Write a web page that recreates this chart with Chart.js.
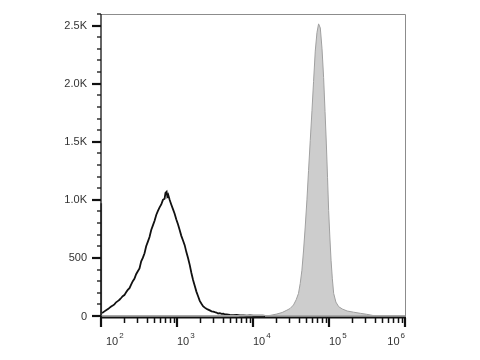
<!DOCTYPE html>
<html>
<head>
<meta charset="utf-8">
<script src="https://cdn.jsdelivr.net/npm/chart.js@4"></script>
<style>
  html, body { margin: 0; padding: 0; background: #fff; }
  canvas { display: block; }
</style>
</head>
<body>
<canvas id="histChart" width="480" height="360"></canvas>
<script>
// Data: fluorescence intensity vs. event count
const unstainedX = [100, 100, 101, 106, 111, 118, 125, 129, 136, 143, 150, 158, 166, 175, 184, 193, 203, 214, 225, 237, 249, 262, 275, 290, 305, 321, 338, 355, 374, 393, 414, 435, 458, 482, 507, 533, 561, 590, 621, 653, 687, 705, 730, 745, 765, 800, 840, 885, 931, 980, 1030, 1084, 1140, 1200, 1262, 1328, 1397, 1470, 1547, 1627, 1711, 1800, 1895, 1992, 2100, 2200, 2320, 2440, 2570, 2702, 2850, 3000, 3146, 3300, 3480, 3664, 3860, 4070, 4300, 4520, 4967, 5500, 6100, 6734, 7500, 8300, 9129, 10100, 11200, 12380, 13500, 14420];
const unstainedY = [0, 970, 25, 30, 40, 52, 62, 70, 82, 90, 100, 118, 128, 140, 155, 170, 180, 205, 225, 240, 270, 300, 320, 360, 385, 410, 470, 500, 540, 600, 640, 680, 740, 780, 820, 870, 905, 935, 960, 1000, 1010, 1060, 1070, 1030, 1045, 1000, 960, 920, 880, 830, 790, 740, 690, 650, 610, 550, 500, 440, 370, 310, 260, 210, 170, 130, 105, 85, 72, 62, 55, 48, 40, 37, 33, 30, 22, 24, 18, 20, 13, 14, 10, 7, 9, 5, 6, 3, 5, 2, 4, 2, 3, 0];

const stainedX = [13150, 16780, 20570, 24170, 27900, 30830, 34100, 37000, 39700, 41800, 44000, 46200, 48650, 51250, 53800, 56640, 59680, 62660, 65940, 69450, 72950, 76850, 80940, 84970, 88700, 92300, 95700, 98900, 102600, 106400, 110700, 115200, 123200, 134200, 150100, 173300, 210000, 259500, 311600, 374300, 422500];
const stainedY = [0, 5, 17, 30, 50, 65, 95, 140, 195, 280, 394, 560, 766, 1000, 1252, 1510, 1767, 2020, 2281, 2440, 2515, 2480, 2300, 2052, 1760, 1481, 1190, 909, 680, 480, 320, 195, 120, 80, 60, 43, 33, 23, 15, 5, 0];

// Axis ticks
const yMajorTicks = [0, 500, 1000, 1500, 2000, 2500];
const yTickLabels = ['0', '500', '1.0K', '1.5K', '2.0K', '2.5K'];
const xDecades = [100, 1000, 10000, 100000, 1000000];
const xExponents = ['2', '3', '4', '5', '6'];

const toPoints = (xs, ys) => xs.map((x, i) => ({ x, y: ys[i] }));

const flowAxes = {
    id: 'flowAxes',
    afterDatasetsDraw(chart) {
        const { ctx, chartArea: area, scales } = chart;
        const xs = scales.x;
        const ys = scales.y;
        const y0 = ys.getPixelForValue(0);
        ctx.save();

        // box border
        ctx.strokeStyle = '#8c8c8c';
        ctx.lineWidth = 1;
        ctx.beginPath();
        ctx.moveTo(area.left, area.top + 0.5);
        ctx.lineTo(area.right + 0.5, area.top + 0.5);
        ctx.lineTo(area.right + 0.5, y0);
        ctx.stroke();

        // gray baseline
        ctx.strokeStyle = '#a8a8a8';
        ctx.beginPath();
        ctx.moveTo(area.left, y0 - 0.5);
        ctx.lineTo(area.right, y0 - 0.5);
        ctx.stroke();

        // left axis
        ctx.strokeStyle = '#333';
        ctx.lineWidth = 1.5;
        ctx.beginPath();
        ctx.moveTo(area.left, area.top);
        ctx.lineTo(area.left, y0 + 2);
        ctx.stroke();

        // bottom axis
        ctx.strokeStyle = '#111';
        ctx.lineWidth = 2;
        ctx.beginPath();
        ctx.moveTo(area.left - 1, y0 + 1.5);
        ctx.lineTo(area.right + 1, y0 + 1.5);
        ctx.stroke();

        // y ticks (minor every 100)
        ctx.strokeStyle = '#111';
        for (let v = 0; v <= ys.max; v += 100) {
            const py = Math.round(ys.getPixelForValue(v));
            const major = yMajorTicks.includes(v);
            ctx.lineWidth = major ? 2.2 : 1.3;
            ctx.beginPath();
            ctx.moveTo(area.left - (major ? 9 : 4), py);
            ctx.lineTo(area.left, py);
            ctx.stroke();
        }

        ctx.fillStyle = '#333';
        ctx.font = '11px "Liberation Sans", Arial, sans-serif';
        ctx.textAlign = 'right';
        ctx.textBaseline = 'middle';
        yMajorTicks.forEach((v, i) => {
            ctx.fillText(yTickLabels[i], area.left - 14, ys.getPixelForValue(v) + 0.5);
        });

        // x ticks (log minors)
        ctx.strokeStyle = '#111';
        xDecades.forEach((d, i) => {
            const px = xs.getPixelForValue(d);
            ctx.lineWidth = 2.2;
            ctx.beginPath();
            ctx.moveTo(px, y0 + 2);
            ctx.lineTo(px, y0 + 11);
            ctx.stroke();
            if (i < xDecades.length - 1) {
                for (let m = 2; m <= 9; m++) {
                    const mx = Math.round(xs.getPixelForValue(d * m)) + 0.5;
                    ctx.lineWidth = 1.5;
                    ctx.beginPath();
                    ctx.moveTo(mx, y0 + 2);
                    ctx.lineTo(mx, y0 + 7);
                    ctx.stroke();
                }
            }
        });

        // x labels 10^n
        ctx.textBaseline = 'alphabetic';
        ctx.textAlign = 'left';
        xDecades.forEach((d, i) => {
            const px = xs.getPixelForValue(d);
            ctx.font = '11px "Liberation Sans", Arial, sans-serif';
            const baseW = ctx.measureText('10').width;
            ctx.font = '8px "Liberation Sans", Arial, sans-serif';
            const expW = ctx.measureText(xExponents[i]).width;
            let startX = px;
            if (i === 0) startX = px + 5;
            if (i === xDecades.length - 1) startX = px - baseW - expW - 1;
            ctx.font = '11px "Liberation Sans", Arial, sans-serif';
            ctx.fillText('10', startX, y0 + 29);
            ctx.font = '8px "Liberation Sans", Arial, sans-serif';
            ctx.fillText(xExponents[i], startX + baseW + 1, y0 + 22);
        });

        ctx.restore();
    },
};

const ctx = document.getElementById('histChart').getContext('2d');

// eslint-disable-next-line no-new
new Chart(ctx, {
    type: 'line',
    data: {
        datasets: [
            {
                label: 'Unstained',
                data: toPoints(unstainedX, unstainedY),
                borderColor: '#111',
                borderWidth: 1.8,
                pointRadius: 0,
                tension: 0,
                fill: false,
                clip: 3,
                order: 0,
            },
            {
                label: 'Stained',
                data: toPoints(stainedX, stainedY),
                borderColor: '#a0a0a0',
                backgroundColor: '#cdcdcd',
                borderWidth: 1,
                pointRadius: 0,
                tension: 0,
                fill: 'origin',
                order: 1,
            },
        ],
    },
    options: {
        responsive: false,
        animation: false,
        devicePixelRatio: 1,
        layout: {
            padding: { left: 101, right: 75, top: 14, bottom: 44 },
        },
        plugins: {
            legend: { display: false },
            tooltip: { enabled: false },
        },
        scales: {
            x: {
                type: 'logarithmic',
                min: 100,
                max: 1000000,
                display: false,
            },
            y: {
                type: 'linear',
                min: 0,
                max: 2600,
                display: false,
            },
        },
    },
    plugins: [flowAxes],
});
</script>
</body>
</html>
